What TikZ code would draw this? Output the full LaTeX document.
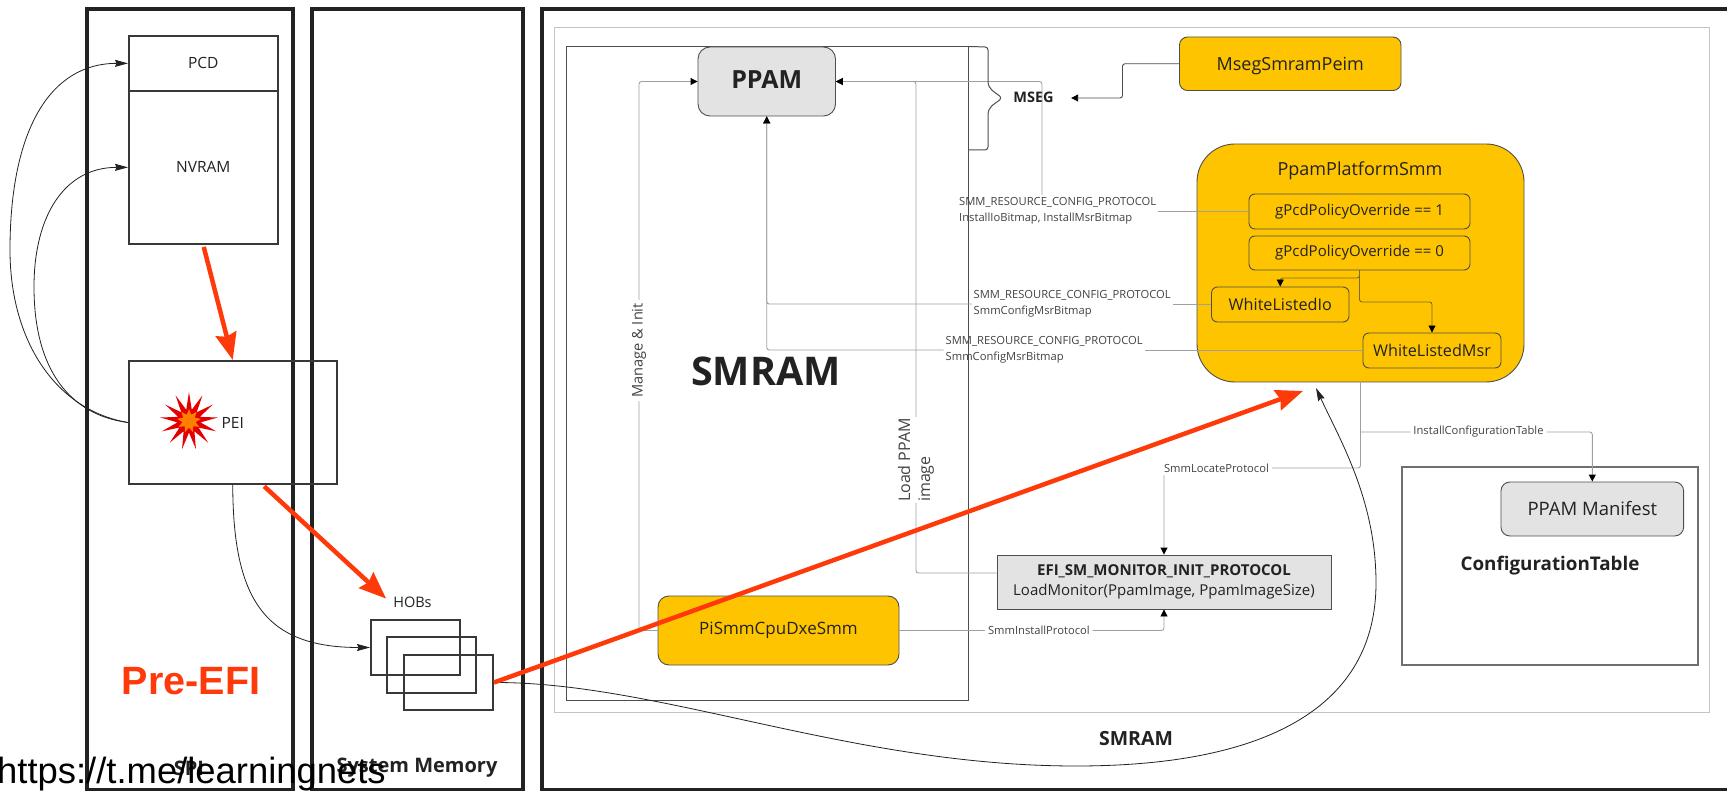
\documentclass[tikz,border=0pt]{standalone}
\usepackage{fontspec}
\setmainfont{Open Sans}
\newfontfamily\arialfont{Liberation Sans}
\usetikzlibrary{arrows.meta,shapes.geometric}
\definecolor{inkdark}{HTML}{222222}
\definecolor{linegray}{HTML}{A0A0A0}
\definecolor{framegray}{HTML}{C4C4C4}
\definecolor{fillgray}{HTML}{E3E3E3}
\definecolor{gold}{HTML}{FFC400}
\definecolor{olive}{HTML}{7D6A1A}
\definecolor{redarrow}{HTML}{FF3A0A}
\newcommand{\px}[1]{\fontsize{#1}{#1}\selectfont}
\tikzset{
    panel/.style={draw=inkdark, line width=4.5pt, inner sep=0pt},
    plainbox/.style={draw=inkdark!90, line width=2pt, inner sep=0pt, text=inkdark, font=\px{15.5}},
    thinbox/.style={draw=inkdark!80, line width=1pt, inner sep=0pt},
    goldbox/.style={draw=inkdark!80, fill=gold, line width=.9pt, inner sep=0pt, text=inkdark, font=\px{18}},
    graybox/.style={draw=inkdark!80, fill=fillgray, line width=.9pt, inner sep=0pt, text=inkdark, font=\px{18.5}},
    conntext/.style={text=inkdark!85, font=\px{11.2}, inner sep=2pt},
    linktext/.style={conntext, fill=white, inner sep=3pt},
    redlink/.style={draw=redarrow, line width=4.5pt, -{Stealth[inset=3pt,length=27pt,width=21pt]}},
    blacklink/.style={draw=inkdark, line width=.8pt, -{Stealth[inset=1.5pt,length=13pt,width=7pt]}},
    conn/.style={draw=linegray, line width=.9pt, rounded corners=2.5pt, -{Triangle[black,length=7pt,width=7pt]}},
    innerconn/.style={conn, draw=olive},
}
\begin{document}
\begin{tikzpicture}[x=1pt,y=-1pt]

    \useasboundingbox (0,0) rectangle (1727,791);
    \fill[white] (0,0) rectangle (1727,791);

    \node[panel, minimum width=206pt, minimum height=781pt] (SpiPanel) at (190,399.5) {};
    \node[panel, minimum width=211pt, minimum height=781pt] (MemPanel) at (417.5,399.5) {};
    \node[panel, minimum width=1203pt, minimum height=781pt] (SmramPanel) at (1143.5,399.5) {};
    \node[draw=framegray, line width=.9pt, minimum width=1155pt, minimum height=685pt] (SmramFrame) at (1131.5,369.5) {};
    \node[thinbox, minimum width=402pt, minimum height=653pt] (SmramBox) at (767,373.5) {};

    \node[plainbox, minimum width=148.5pt, minimum height=54.7pt] (PCD) at (203.25,63.35) {PCD};
    \node[plainbox, minimum width=148.5pt, minimum height=153.3pt] (NVRAM) at (203.25,167.35) {NVRAM};
    \node[plainbox, minimum width=207.5pt, minimum height=123pt] (PEI) at (232.75,422.5) {PEI};
    \node[star, star points=13, star point ratio=2.5, fill=red!90!black, minimum size=58pt, inner sep=0pt] (Burst) at (189,421) {};
    \node[star, star points=9, star point ratio=1.8, fill=orange, minimum size=24pt, inner sep=0pt] (BurstCore) at (189,421) {};
    \node[plainbox, minimum width=89pt, minimum height=55pt] (HobA) at (415.5,647.5) {};
    \node[plainbox, minimum width=89pt, minimum height=56pt] (HobB) at (431.5,665) {};
    \node[plainbox, minimum width=89.5pt, minimum height=55pt] (HobC) at (448.25,682.5) {};
    \node[text=inkdark, font=\px{14.5}] (HOBs) at (412.5,602) {HOBs};
    \node[text=redarrow, font=\arialfont\bfseries\px{39.5}] (PreEfi) at (191,681) {Pre-EFI};
    \node[text=inkdark, font=\bfseries\px{20}] (SpiLabel) at (189,768) {SPI};
    \node[text=inkdark, font=\bfseries\px{20}] (MemLabel) at (417,768) {System Memory};

    \node[graybox, rounded corners=12pt, font=\bfseries\px{25}, text depth=4pt, minimum width=137.5pt, minimum height=69pt] (PPAM) at (766.75,81.5) {PPAM};
    \node[goldbox, rounded corners=8pt, text height=17pt, minimum width=221.5pt, minimum height=53.5pt] (MsegPeim) at (1290.25,63.75) {MsegSmramPeim};
    \node[goldbox, rounded corners=38pt, minimum width=327pt, minimum height=238pt] (Platform) at (1360.5,263) {};
    \node[text=inkdark, font=\px{18}] (PlatformTitle) at (1360,171) {PpamPlatformSmm};
    \node[goldbox, rounded corners=6pt, font=\px{15}, minimum width=221pt, minimum height=35pt] (PolicyOne) at (1359.5,211.5) {gPcdPolicyOverride == 1};
    \node[goldbox, rounded corners=6pt, font=\px{15}, minimum width=221pt, minimum height=34pt] (PolicyZero) at (1359.5,253) {gPcdPolicyOverride == 0};
    \node[goldbox, rounded corners=6pt, font=\px{16.2}, minimum width=137.5pt, minimum height=35pt] (ListIo) at (1280.25,304.5) {WhiteListedIo};
    \node[goldbox, rounded corners=6pt, font=\px{16.2}, minimum width=138pt, minimum height=35pt] (ListMsr) at (1432,350.5) {WhiteListedMsr};
    \node[goldbox, rounded corners=11pt, font=\px{17}, minimum width=241pt, minimum height=69pt] (CpuSmm) at (778.5,630.5) {PiSmmCpuDxeSmm};
    \node[graybox, align=center, font=\px{15}, minimum width=334pt, minimum height=54pt] (MonitorInit) at (1164,582) {{\bfseries\px{15}EFI\_SM\_MONITOR\_INIT\_PROTOCOL}\\[5pt]LoadMonitor(PpamImage, PpamImageSize)};
    \node[draw=inkdark!65, line width=1.2pt, minimum width=296pt, minimum height=198pt] (ConfigBox) at (1550,566) {};
    \node[graybox, rounded corners=9pt, minimum width=182.7pt, minimum height=54pt] (Manifest) at (1592.3,509) {PPAM Manifest};
    \node[text=inkdark, font=\bfseries\px{18.8}] (ConfigLabel) at (1550,566) {ConfigurationTable};
    \node[text=inkdark, font=\bfseries\px{39.5}] (SmramBig) at (766,371) {SMRAM};
    \node[text=inkdark, font=\bfseries\px{19.5}] (SmramLabel) at (1136,739) {SMRAM};
    \node[text=inkdark, font=\bfseries\px{14.5}] (MSEG) at (1033.5,97) {MSEG};

    \node[conntext, anchor=west, align=left] (ResourceA) at (957,210.5) {SMM\_RESOURCE\_CONFIG\_PROTOCOL\\[5pt]InstallIoBitmap, InstallMsrBitmap};
    \node[conntext, anchor=west, align=left] (ResourceB) at (971.5,304) {SMM\_RESOURCE\_CONFIG\_PROTOCOL\\[5pt]SmmConfigMsrBitmap};
    \node[conntext, anchor=west, align=left] (ResourceC) at (943.5,350) {SMM\_RESOURCE\_CONFIG\_PROTOCOL\\[5pt]SmmConfigMsrBitmap};

    \coordinate (ResourceTop) at (1042,81.5);
    \coordinate (ManageTop) at (639,81.5);
    \coordinate (ManageBottom) at (639,630.5);
    \coordinate (LoadBottom) at (916,573);
    \coordinate (LoadTop) at (916,81.5);
    \coordinate (LocateTurn) at (1164,468);
    \coordinate (TableTurn) at (1592.3,432);
    \coordinate (PlatformTip) at (1303,391);
    \coordinate (CurveTip) at (1316,388);

    \draw[conn, -] (PolicyOne.west) -- (ResourceA.east |- PolicyOne.west);
    \draw[conn] (ResourceA.north -| ResourceTop) -- (ResourceTop) -- (PPAM.east);
    \draw[conn, -] (ListIo.west) -- (ResourceB.east |- ListIo.west);
    \draw[conn] (ResourceB.west) -- (PPAM.south |- ResourceB.west) -- (PPAM.south);
    \draw[conn, -] (ListMsr.west) -- (ResourceC.east |- ListMsr.west);
    \draw[conn] (ResourceC.west) -- (PPAM.south |- ResourceC.west) -- (PPAM.south);
    \draw[conn] (CpuSmm.west) -- (ManageBottom) -- node[pos=.51, linktext, rotate=90, font=\px{14.6}] (ManageLabel) {Manage \& Init} (ManageTop) -- (PPAM.west);
    \draw[conn] (MonitorInit.west |- LoadBottom) -- (LoadBottom) -- node[pos=.23, linktext, rotate=90, align=left, font=\px{16}, inner sep=1pt] (LoadLabel) {Load PPAM\\[4pt]image} (LoadTop) -- (PPAM.east);
    \draw[conn] (CpuSmm.east) -- node[pos=.527, linktext] (InstallLabel) {SmmInstallProtocol} (MonitorInit.south |- CpuSmm.east) -- (MonitorInit.south);
    \draw[conn] (Platform.south) -- (Platform.south |- LocateTurn) -- node[pos=.733, linktext] (LocateLabel) {SmmLocateProtocol} (LocateTurn) -- (MonitorInit.north);
    \draw[conn] (Platform.south |- TableTurn) -- node[pos=.509, linktext] (TableLabel) {InstallConfigurationTable} (TableTurn) -- (Manifest.north);
    \draw[conn, draw=inkdark!80, shorten >=14pt] (MsegPeim.west) -- (1122.5,63.75) -- (1122.5,98) -- (MSEG.east |- 0,98);
    \draw[innerconn] (PolicyZero.south) -- (1359.5,278) -- (ListIo.north |- 0,278) -- (ListIo.north);
    \draw[innerconn] (PolicyZero.south) -- (1359.5,302) -- (ListMsr.north |- 0,302) -- (ListMsr.north);

    \draw[draw=inkdark!80, line width=1pt, rounded corners=3pt] (SmramBox.north east) -- (988,47) -- (988,78) .. controls (988,90) and (995,92) .. (1002,98) .. controls (995,104) and (988,106) .. (988,118) -- (988,150) -- (SmramBox.east |- 0,150);

    \draw[blacklink] (PEI.west) .. controls (55,410) and (10,340) .. (10,250) .. controls (10,130) and (50,63.35) .. (PCD.west);
    \draw[blacklink] (PEI.west) .. controls (70,415) and (34,370) .. (34,287) .. controls (34,215) and (65,167.35) .. (NVRAM.west);
    \draw[blacklink] (PEI.south) .. controls (233,600) and (265,647.5) .. (HobA.west);
    \draw[blacklink] (HobC.east) .. controls (660,682) and (850,766) .. (1076,766) .. controls (1270,766) and (1376,705) .. (1376,583) .. controls (1376,500) and (1340,440) .. (CurveTip);

    \draw[redlink, shorten <=2pt] (NVRAM.south) -- (PEI.north);
    \draw[redlink, shorten >=5pt, shorten <=2pt] ([xshift=30pt]PEI.south) -- (HOBs.west);
    \draw[redlink] (HobC.east) -- (PlatformTip);

    \node[anchor=base west, inner sep=0pt, text=black, font=\arialfont\px{36.4}] (Watermark) at (-3,783) {https://t.me/learningnets};

\end{tikzpicture}
\end{document}
